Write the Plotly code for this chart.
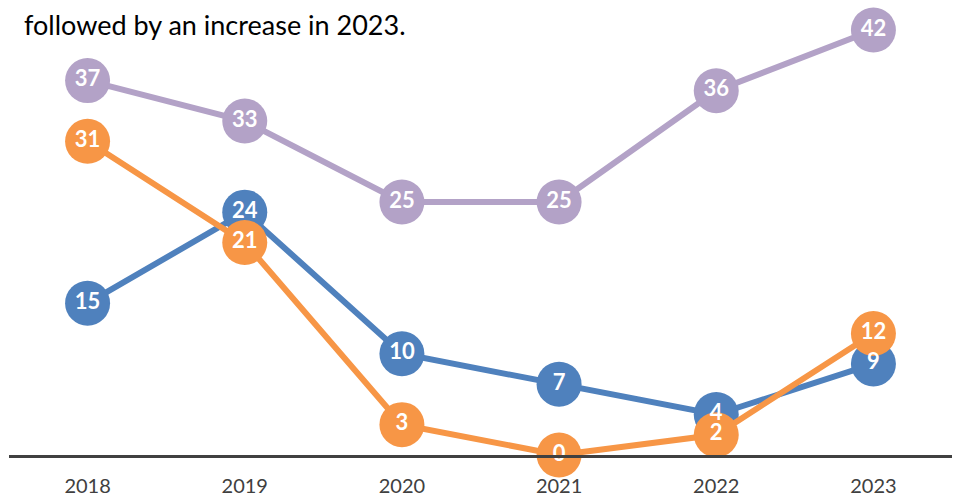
import plotly.graph_objects as go

years = ["2018", "2019", "2020", "2021", "2022", "2023"]
purple_vals = [37, 33, 25, 25, 36, 42]
blue_vals = [15, 24, 10, 7, 4, 9]
orange_vals = [31, 21, 3, 0, 2, 12]

series = [
    ("Purple", purple_vals, "#B3A2C7"),
    ("Blue", blue_vals, "#4F81BD"),
    ("Orange", orange_vals, "#F79646"),
]

fig = go.Figure()
for name, vals, color in series:
    fig.add_trace(go.Scatter(
        x=years, y=vals, name=name, mode="lines+markers",
        line=dict(color=color, width=6),
        marker=dict(color=color, size=45, line=dict(width=0)),
        cliponaxis=False, showlegend=False, hoverinfo="skip",
    ))
for name, vals, color in series:
    fig.add_trace(go.Scatter(
        x=years, y=vals, mode="text", text=[str(v) for v in vals],
        textposition="middle center",
        textfont=dict(family="Lato", size=22, color="white", weight="bold"),
        cliponaxis=False, showlegend=False, hoverinfo="skip",
    ))

fig.update_layout(
    width=955, height=497,
    margin=dict(l=9, r=3, t=30, b=42, autoexpand=False),
    paper_bgcolor="white", plot_bgcolor="white",
    xaxis=dict(type="category", range=[-0.5, 5.5], showgrid=False, zeroline=False,
               showline=True, linecolor="#404040", linewidth=3,
               ticks="", ticklabelstandoff=11, automargin=False,
               tickfont=dict(family="Lato", size=20, color="#404040")),
    yaxis=dict(range=[0, 42], visible=False, showgrid=False, zeroline=False,
               automargin=False),
    annotations=[dict(
        text="followed by an increase in 2023.", xref="paper", yref="paper",
        x=0.0138, y=1.014, xanchor="left", yanchor="middle", showarrow=False,
        font=dict(family="Lato", size=27, color="#000000"),
    )],
)

fig.write_html("out.html")
